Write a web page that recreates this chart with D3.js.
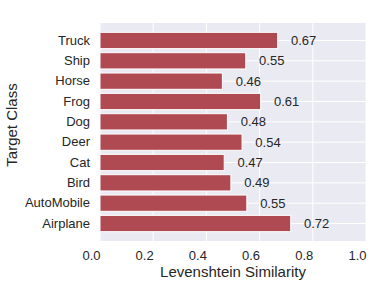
<!DOCTYPE html>
<html>
<head>
<meta charset="utf-8">
<script src="https://cdn.jsdelivr.net/npm/d3@7"></script>
<style>
  body { margin: 0; background: #fff; }
  text { font-family: "Liberation Sans", Arial, sans-serif; fill: #262626; }
</style>
</head>
<body>
<div id="chart"></div>
<script>
// classes listed from top to bottom
var classes = ["Truck", "Ship", "Horse", "Frog", "Dog", "Deer", "Cat", "Bird", "AutoMobile", "Airplane"];
var similarity = [0.668, 0.548, 0.46, 0.604, 0.479, 0.534, 0.467, 0.492, 0.552, 0.717];
var valueLabels = ["0.67", "0.55", "0.46", "0.61", "0.48", "0.54", "0.47", "0.49", "0.55", "0.72"];
var xTicks = [0, 0.2, 0.4, 0.6, 0.8, 1.0];

var width = 382,
	height = 285,
	margin = { top: 23, right: 16, bottom: 44, left: 100 },
	BAR_COLOR = "#af4a53",
	BG = "#eaeaf2";

var svg = d3.select("#chart").append("svg")
	.attr("width", width)
	.attr("height", height);

var x = d3.scaleLinear()
	.domain([0, 1])
	.range([margin.left, width - margin.right]);

var y = d3.scaleBand()
	.domain(classes)
	.range([margin.top, height - margin.bottom])
	.paddingInner(0.2)
	.paddingOuter(0.46);

// plot background
svg.append("rect")
	.attr("x", x(0))
	.attr("y", margin.top)
	.attr("width", x(1) - x(0))
	.attr("height", height - margin.bottom - margin.top)
	.style("fill", BG);

// grid lines
svg.append("g").selectAll("line")
	.data(xTicks)
	.enter()
	.append("line")
	.attr("x1", function(d) { return x(d); })
	.attr("x2", function(d) { return x(d); })
	.attr("y1", margin.top)
	.attr("y2", height - margin.bottom)
	.style("stroke", "#fff")
	.style("stroke-width", 1);

svg.append("g").selectAll("line")
	.data(classes)
	.enter()
	.append("line")
	.attr("x1", x(0))
	.attr("x2", x(1))
	.attr("y1", function(d) { return y(d) + y.bandwidth() / 2; })
	.attr("y2", function(d) { return y(d) + y.bandwidth() / 2; })
	.style("stroke", "#fff")
	.style("stroke-width", 1);

// bars
svg.append("g").selectAll("rect")
	.data(classes)
	.enter()
	.append("rect")
	.attr("x", x(0))
	.attr("y", function(d) { return y(d); })
	.attr("width", function(d, i) { return x(similarity[i]) - x(0); })
	.attr("height", y.bandwidth())
	.style("fill", BAR_COLOR)
	.style("stroke", "#fff")
	.style("stroke-width", 1);

// value labels just right of each bar
svg.append("g").selectAll("text")
	.data(classes)
	.enter()
	.append("text")
	.attr("x", function(d, i) { return x(similarity[i] + 0.05); })
	.attr("y", function(d) { return y(d) + y.bandwidth() / 2; })
	.attr("dy", "0.35em")
	.style("font-size", "13px")
	.text(function(d, i) { return valueLabels[i]; });

// axes, without domain lines or tick marks
var xAxis = svg.append("g")
	.attr("transform", "translate(0," + (height - margin.bottom) + ")")
	.call(d3.axisBottom(x).tickValues(xTicks).tickFormat(d3.format(".1f")).tickSize(0).tickPadding(10));

// x tick labels sit right-aligned on their tick
xAxis.selectAll("text").attr("text-anchor", "end");

var yAxis = svg.append("g")
	.attr("transform", "translate(" + margin.left + ",0)")
	.call(d3.axisLeft(y).tickSize(0).tickPadding(10));

[xAxis, yAxis].forEach(function(a) {
	a.select(".domain").remove();
	a.selectAll("text")
		.style("font-size", "13px")
		.style("font-family", "'Liberation Sans', Arial, sans-serif")
		.style("fill", "#262626");
});

// axis titles
svg.append("text")
	.attr("x", (x(0) + x(1)) / 2)
	.attr("y", 277)
	.attr("text-anchor", "middle")
	.style("font-size", "15px")
	.text("Levenshtein Similarity");

svg.append("text")
	.attr("transform", "translate(17,125) rotate(-90)")
	.attr("text-anchor", "middle")
	.style("font-size", "15px")
	.text("Target Class");
</script>
</body>
</html>
